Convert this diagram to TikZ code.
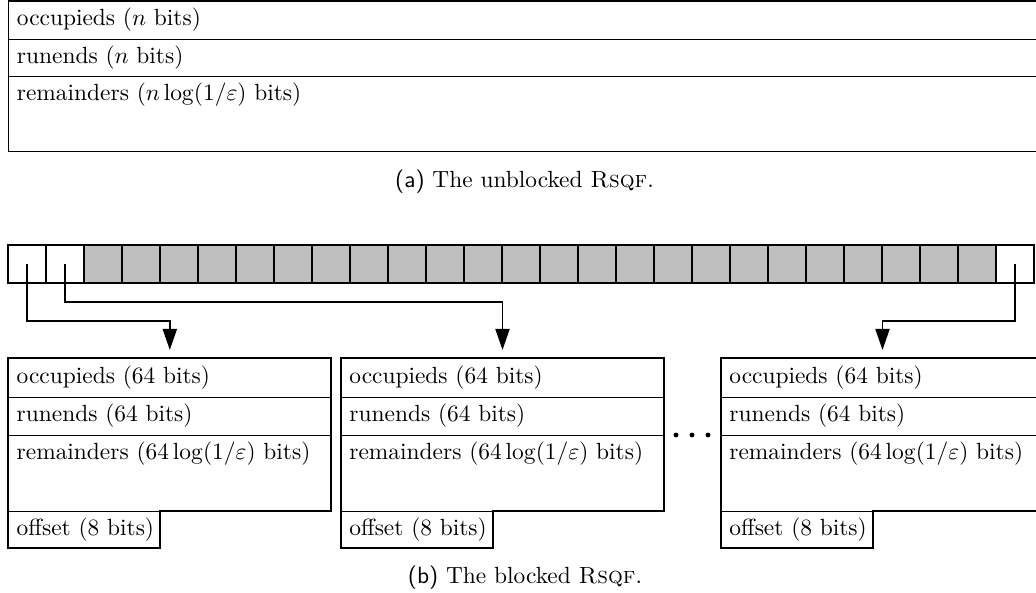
\documentclass[tikz,border=0pt]{standalone}
\usetikzlibrary{arrows.meta,calc}
\begin{document}
\begin{tikzpicture}[x=0.4274pt,y=-0.4274pt,
  outline/.style={line width=0.8pt},
  sepline/.style={line width=0.4pt},
  lbl/.style={anchor=west,inner xsep=3.6pt,inner ysep=0pt,outer sep=0pt},
  cell/.style={draw,line width=0.8pt,minimum size=16.24pt,inner sep=0pt,outer sep=0pt},
  conn/.style={line width=0.8pt,-{Triangle[length=9pt,width=6pt]}},
  dotmark/.style={fill=black,draw=none}]
\useasboundingbox (0,0) rectangle (1036,593);
% (a) unblocked
\draw[outline] (8.5,1) rectangle (1045,151.5);
\draw[sepline] (8.5,39) -- (1045,39);
\draw[sepline] (8.5,76) -- (1045,76);
\node[lbl] (occa) at (8.5,20) {occupieds ($n$ bits)};
\node[lbl] (runa) at (8.5,57.5) {runends ($n$ bits)};
\node[lbl] (rema) at (8.5,95) {remainders ($n\log(1/\varepsilon)$ bits)};
\node (capa) at (524.5,182) {\textsf{(a)} The unblocked \textsc{Rsqf}.};
% (b) blocked: array of cells
\foreach \i in {1,...,27}{
  \ifnum\i<3 \def\cf{white}\else\ifnum\i=27 \def\cf{white}\else\def\cf{black!25}\fi\fi
  \node[cell,fill=\cf] (c\i) at ({8.3+38*\i-19},264) {};
}
% blocks
\foreach \bx/\n in {8.3/1,341/2,721/3}{
  \draw[outline] (\bx,358) -- ({\bx+323},358) -- ({\bx+323},511) -- ({\bx+152},511)
     -- ({\bx+152},548) -- (\bx,548) -- cycle;
  \draw[sepline] (\bx,397) -- ({\bx+323},397);
  \draw[sepline] (\bx,435) -- ({\bx+323},435);
  \draw[sepline] (\bx,511) -- ({\bx+152},511);
  \node[lbl] (occ\n) at (\bx,378) {occupieds (64 bits)};
  \node[lbl] (run\n) at (\bx,416) {runends (64 bits)};
  \node[lbl] (rem\n) at (\bx,454) {remainders ($64\log(1/\varepsilon)$ bits)};
  \node[lbl] (off\n) at (\bx,529.5) {offset (8 bits)};
  \coordinate (t\n) at ({\bx+161.5},350);
}
\coordinate (h1) at (0,321);
\coordinate (h2) at (0,302);
\draw[conn] (c1.center) -- (c1.center |- h1) -| (t1);
\draw[conn] (c2.center) -- (c2.center |- h2) -| (t2);
\draw[conn] (c27.center) -- (c27.center |- h1) -| (t3);
% dots
\foreach \dx in {676,692,708}{
  \fill[dotmark] (\dx,435) circle (1.05pt);
}
\node (capb) at (525,578) {\textsf{(b)} The blocked \textsc{Rsqf}.};
\end{tikzpicture}
\end{document}
